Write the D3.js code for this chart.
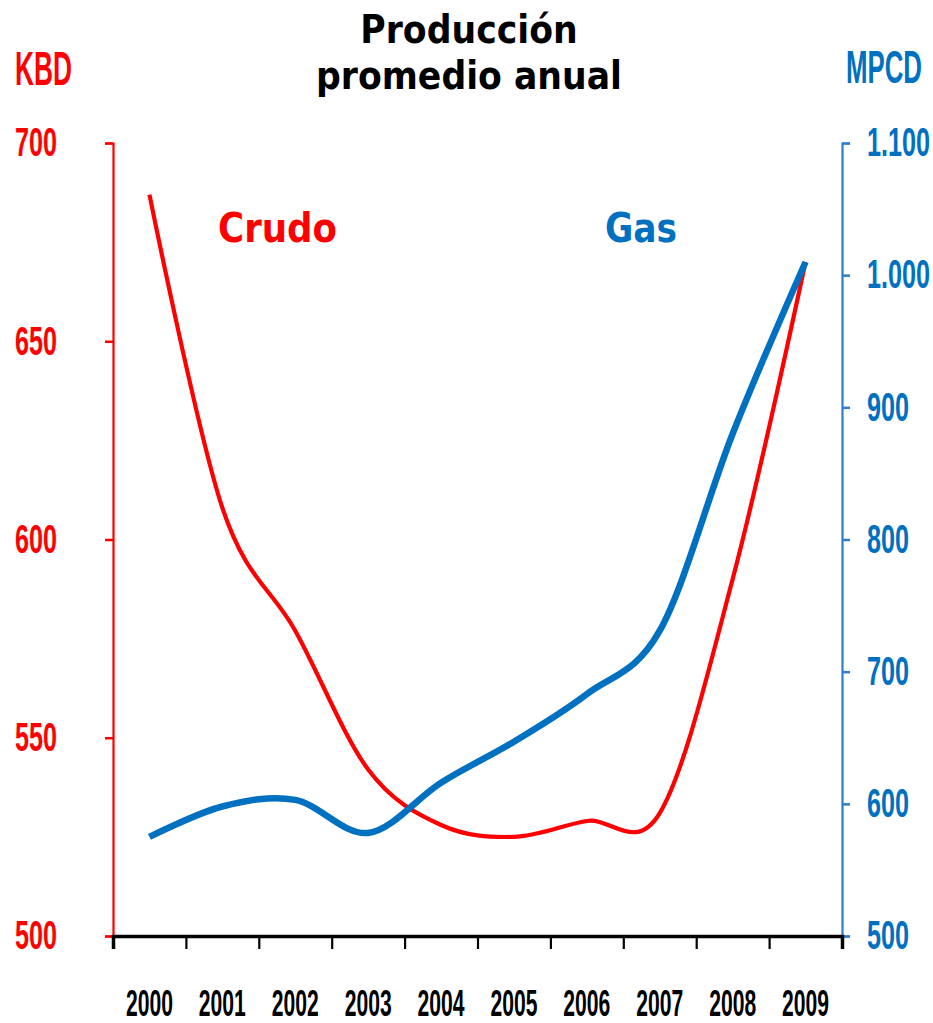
<!DOCTYPE html>
<html>
<head>
<meta charset="utf-8">
<script src="https://cdn.jsdelivr.net/npm/d3@7"></script>
<style>
  body { margin: 0; background: #fff; }
  svg { display: block; }
</style>
</head>
<body>
<script>
// años y producción promedio anual
const years = ["2000", "2001", "2002", "2003", "2004", "2005", "2006", "2007", "2008", "2009"]
const crudo = [687, 608, 577, 542, 528, 525, 529, 531, 590, 670]   // KBD
const gas = [575, 598, 603, 578, 616, 647, 683, 731, 880, 1010]    // MPCD
const leftTicks = [500, 550, 600, 650, 700]
const rightTicks = [500, 600, 700, 800, 900, 1000, 1100]
const titleLines = ["Producción", "promedio anual"]

const w = 933
const h = 1023
const padL = 113
const padR = 842
const padT = 143
const padB = 936

const red = "#ff0000"
const blue = "#0070c0"
const narrow = "'Liberation Sans Narrow', 'Liberation Sans', Arial, sans-serif"
const wide = "'DejaVu Sans', Verdana, sans-serif"

const svg = d3.select("body").append("svg").attr("width", w).attr("height", h)

const x = d3.scaleBand().domain(years).range([padL, padR]).padding(0)
const yL = d3.scaleLinear().domain([500, 700]).range([padB, padT])
const yR = d3.scaleLinear().domain([500, 1100]).range([padB, padT])
const cx = (d) => x(d) + x.bandwidth() / 2

// width of a number label: digits ~14px, dot ~7px
const labelLen = (s) => s.replace(/\./g, "").length * 14 + (s.split(".").length - 1) * 7
const fmtR = (d) => d3.format(",")(d).replace(/,/g, ".")

// squeeze a text horizontally to a given width (the reference fonts are condensed)
function fit(sel, width) {
  sel.each(function (d) {
    const t = d3.select(this)
    const natural = this.getComputedTextLength()
    const target = typeof width === "function" ? width(d) : width
    const tx = +t.attr("x") || 0
    const ty = +t.attr("y") || 0
    t.attr("x", 0).attr("y", 0)
      .attr("transform", `translate(${tx},${ty}) scale(${target / natural},1)`)
  })
}

// left axis (red)
const gl = svg.append("g")
  .attr("transform", `translate(${padL},0)`)
  .call(d3.axisLeft(yL).tickValues(leftTicks).tickSize(8).tickPadding(49))
gl.select(".domain").attr("stroke", red).attr("stroke-width", 2.2)
gl.selectAll(".tick line").attr("stroke", red).attr("stroke-width", 2.5)
gl.selectAll(".tick text")
  .attr("fill", red)
  .attr("font-family", narrow)
  .attr("font-weight", "bold")
  .attr("font-size", 40)
  .attr("text-anchor", "start")
  .attr("x", -98)
  .call(fit, (d) => labelLen(String(d)))

// right axis (blue)
const gr = svg.append("g")
  .attr("transform", `translate(${padR},0)`)
  .call(d3.axisRight(yR).tickValues(rightTicks).tickSize(8).tickPadding(17).tickFormat(fmtR))
gr.select(".domain").attr("stroke", "#2a7fcf").attr("stroke-width", 2.2)
gr.selectAll(".tick line").attr("stroke", "#2a7fcf").attr("stroke-width", 2.5)
gr.selectAll(".tick text")
  .attr("fill", blue)
  .attr("font-family", narrow)
  .attr("font-weight", "bold")
  .attr("font-size", 40)
  .call(fit, (d) => labelLen(fmtR(d)))

// bottom axis: marks at the band edges, labels at the centres
const edges = d3.scaleLinear().domain([0, years.length]).range([padL, padR])
const gb = svg.append("g")
  .attr("transform", `translate(0,${padB})`)
  .call(d3.axisBottom(edges).ticks(years.length).tickSize(13).tickFormat(""))
gb.select(".domain").attr("stroke", "#000").attr("stroke-width", 3.5)
gb.selectAll(".tick line").attr("stroke", "#000").attr("stroke-width", 2.2)

const gx = svg.append("g")
  .attr("transform", `translate(0,${padB})`)
  .call(d3.axisBottom(x).tickSize(0).tickPadding(54))
gx.select(".domain").remove()
gx.selectAll(".tick text")
  .attr("fill", "#000")
  .attr("font-family", narrow)
  .attr("font-weight", "bold")
  .attr("font-size", 37)
  .call(fit, 47)

// series
const lineL = d3.line().x((d, i) => cx(years[i])).y((d) => yL(d)).curve(d3.curveCardinal.tension(0))
const lineR = d3.line().x((d, i) => cx(years[i])).y((d) => yR(d)).curve(d3.curveCardinal.tension(0))

svg.append("path")
  .datum(crudo)
  .attr("d", lineL)
  .attr("fill", "none")
  .attr("stroke", red)
  .attr("stroke-width", 4.2)

svg.append("path")
  .datum(gas)
  .attr("d", lineR)
  .attr("fill", "none")
  .attr("stroke", blue)
  .attr("stroke-width", 6.5)

// title: one text, two lines
const title = svg.append("text")
  .attr("font-family", wide)
  .attr("font-weight", "bold")
  .attr("font-size", 39.5)
  .attr("fill", "#000")
  .attr("text-anchor", "middle")
title.selectAll("tspan")
  .data(titleLines)
  .enter()
  .append("tspan")
  .attr("x", 0)
  .attr("dy", (d, i) => (i === 0 ? 0 : 46.5))
  .text((d) => d)
const nat = title.select("tspan:last-child").node().getComputedTextLength()
title.attr("transform", `translate(469,43) scale(${306 / nat},1)`)

// other texts
const txt = (s, tx, ty, size, fill, len, family, anchor) =>
  svg.append("text")
    .text(s)
    .attr("x", tx)
    .attr("y", ty)
    .attr("font-family", family)
    .attr("font-weight", "bold")
    .attr("font-size", size)
    .attr("fill", fill)
    .attr("text-anchor", anchor)
    .call(fit, len)

txt("KBD", 15, 85, 48, red, 57, narrow, "start")
txt("MPCD", 846, 83, 47, blue, 76, narrow, "start")
txt("Crudo", 218, 242, 40, red, 119, wide, "start")
txt("Gas", 605, 242, 40, blue, 72, wide, "start")
</script>
</body>
</html>
